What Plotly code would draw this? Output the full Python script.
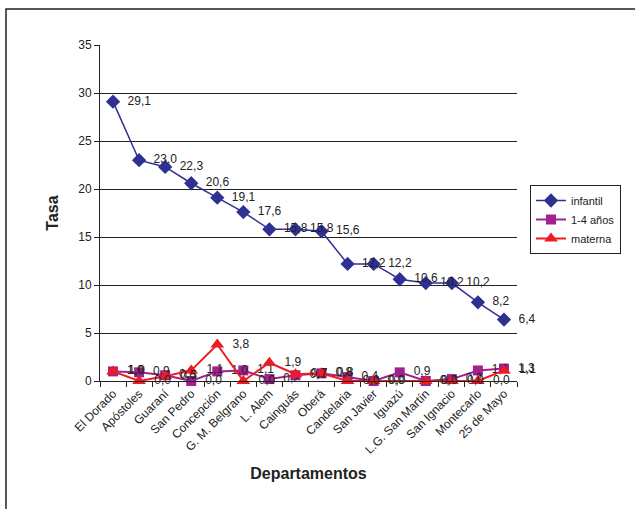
import plotly.graph_objects as go

# Mortality rates by department (infant, 1-4 years, maternal)
departamentos = [
    "El Dorado", "Apóstoles", "Guaraní", "San Pedro", "Concepción",
    "G. M. Belgrano", "L. Alem", "Cainguás", "Oberá", "Candelaria",
    "San Javier", "Iguazú", "L.G. San Martín", "San Ignacio",
    "Montecarlo", "25 de Mayo",
]
infantil = [29.1, 23.0, 22.3, 20.6, 19.1, 17.6, 15.8, 15.8, 15.6, 12.2,
            12.2, 10.6, 10.2, 10.2, 8.2, 6.4]
uno_cuatro = [1.0, 0.9, 0.6, 0.0, 1.0, 1.1, 0.2, 0.6, 0.8, 0.4,
              0.0, 0.9, 0.0, 0.2, 1.1, 1.3]
materna = [1.0, 0.0, 0.5, 1.1, 3.8, 0.0, 1.9, 0.7, 0.8, 0.0,
           0.0, None, 0.0, 0.0, 0.0, 1.1]
y_ticks = [0, 5, 10, 15, 20, 25, 30, 35]

FONT = "Liberation Sans, Arial, sans-serif"
INK = "#222222"


def etiquetas(vals):
    # comma decimal separator, small lead space between marker and label
    return ["" if v is None else "  " + f"{v:.1f}".replace(".", ",") for v in vals]


fig = go.Figure()
series = [
    ("infantil", infantil, "#2e3192", "diamond", 11, 1.5),
    ("1-4 años", uno_cuatro, "#a3218e", "square", 10, 2),
    ("materna", materna, "#ed1c24", "triangle-up", 12, 2),
]
for nombre, vals, color, simbolo, tam, ancho in series:
    fig.add_trace(go.Scatter(
        x=departamentos, y=vals, name=nombre,
        mode="lines+markers+text",
        text=etiquetas(vals), textposition="middle right",
        textfont=dict(family=FONT, size=12, color=INK),
        line=dict(color=color, width=ancho),
        marker=dict(symbol=simbolo, size=tam, color=color),
        connectgaps=True, cliponaxis=False,
    ))

L, R, T, B = 100, 118, 45, 128
W, H = 635, 509
pw, ph = W - L - R, H - T - B

fig.update_layout(
    width=W, height=H,
    margin=dict(l=L, r=R, t=T, b=B, autoexpand=False),
    paper_bgcolor="white", plot_bgcolor="white",
    font=dict(family=FONT, size=12, color=INK),
    showlegend=True,
    legend=dict(
        x=(530 - L) / pw, y=(H - B - 185) / ph, xanchor="left", yanchor="top",
        bordercolor=INK, borderwidth=1, bgcolor="white",
        font=dict(family=FONT, size=11, color=INK),
        itemwidth=30, tracegroupgap=0,
    ),
    xaxis=dict(
        type="category", range=[-0.5, len(departamentos) - 0.5],
        showline=True, linecolor=INK, linewidth=1,
        ticks="outside", tickson="boundaries", ticklen=5,
        tickcolor=INK, tickangle=-45, showgrid=False,
        tickfont=dict(family=FONT, size=12, color=INK),
        title=dict(text="<b>Departamentos</b>", standoff=12,
                   font=dict(family=FONT, size=16, color=INK)),
    ),
    yaxis=dict(
        range=[0, 35], tickvals=y_ticks,
        showline=True, linecolor=INK, linewidth=1,
        ticks="outside", ticklen=5, tickcolor=INK,
        showgrid=True, gridcolor=INK, gridwidth=1,
        zeroline=False,
        tickfont=dict(family=FONT, size=12, color=INK),
        title=dict(text="<b>Tasa</b>", standoff=15,
                   font=dict(family=FONT, size=16, color=INK)),
    ),
    shapes=[dict(
        type="rect", xref="paper", yref="paper",
        x0=(6 - L) / pw, x1=(W + 5 - L) / pw,
        y0=(H - B - (H + 5)) / ph, y1=(H - B - 9) / ph,
        line=dict(color=INK, width=1.5), layer="below",
    )],
)

fig.write_html("out.html")
